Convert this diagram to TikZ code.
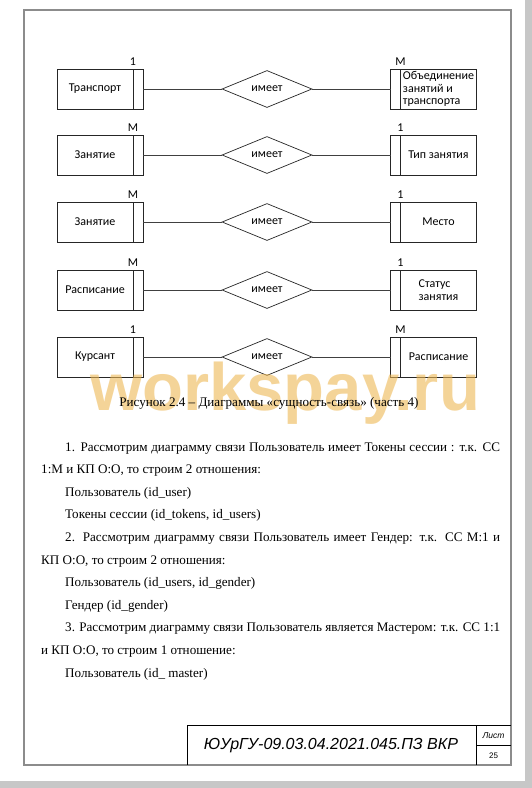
\documentclass[tikz,border=0pt]{standalone}
\usepackage{fontspec}
\setmainfont{Liberation Serif}
\newfontfamily\diagfont{Carlito}
\newfontfamily\stampfont{Liberation Sans}
\usetikzlibrary{positioning,shapes.geometric}

\definecolor{wmark}{RGB}{238,184,84}
\newcommand{\fullline}[1]{\makebox[435pt][s]{#1}}

\tikzset{
  entity/.style={draw=black!85, line width=0.7pt, outer sep=0pt, minimum width=76pt, minimum height=40pt,
    inner sep=1pt, align=left, font=\diagfont\fontsize{12}{12.6}\selectfont},
  keystrip/.style={draw=black!85, line width=0.7pt, outer sep=0pt, minimum width=10pt, minimum height=40pt, inner sep=0pt},
  relation/.style={diamond, draw=black!85, line width=0.7pt, minimum width=90pt, minimum height=31pt,
    inner sep=0pt, font=\diagfont\fontsize{12}{13}\selectfont},
  card/.style={inner sep=0pt, font=\diagfont\fontsize{12}{13}\selectfont},
  link/.style={draw=black!75, line width=0.7pt},
  bodyline/.style={anchor=base west, inner sep=0pt, font=\fontsize{13.1}{15}\selectfont},
  frameline/.style={draw=black!45, line width=1.5pt},
  stampline/.style={draw=black, line width=1pt},
}

\begin{document}
\begin{tikzpicture}[x=1pt,y=-1pt]
    \useasboundingbox (0,0) rectangle (532,788);
    % Page edge and sheet frame
    \fill[white] (0,0) rectangle (532,788);
    \fill[black!22] (525,0) rectangle (532,788);
    \fill[black!22] (0,781) rectangle (532,788);
    \draw[frameline] (24,10) rectangle (511,765);

    % Entity-relationship rows
    \foreach \i/\y/\lt/\rt/\lc/\rc in {
        1/89/Транспорт/{Объединение\\занятий и\\транспорта}/1/M,
        2/155/Занятие/Тип занятия/M/1,
        3/222/Занятие/Место/M/1,
        4/290/Расписание/{Статус\\занятия}/M/1,
        5/357/Курсант/Расписание/1/M}
    {
        \node[entity] (L\i) at (95,\y) {\lt};
        \node[keystrip, right=0pt of L\i] (LS\i) {};
        \node[relation] (D\i) at (267,\y) {имеет};
        \node[entity] (R\i) at (438.5,\y) {\rt};
        \node[keystrip, left=0pt of R\i] (RS\i) {};
        \draw[link] (LS\i) -- (D\i) -- (RS\i);
        \node[card, above=3pt of LS\i.north west] (LC\i) {\lc};
        \node[card, above=3pt of RS\i.north east] (RC\i) {\rc};
    }

    % Watermark
    \node[anchor=base west, inner sep=0pt, text=wmark, opacity=0.6,
          font=\stampfont\bfseries\fontsize{67}{67}\selectfont] (wm) at (90,410) {workspay.ru};

    % Caption and text
    \node[bodyline, anchor=base] (caption) at (269,406) {Рисунок 2.4 – Диаграммы «сущность-связь» (часть 4)};
    \foreach \i/\x/\txt in {
        1/65/{\fullline{1. Рассмотрим диаграмму связи Пользователь имеет Токены сессии : т.к. СС}},
        2/41/{1:M и КП О:О, то строим 2 отношения:},
        3/65/{Пользователь (id\_user)},
        4/65/{Токены сессии (id\_tokens, id\_users)},
        5/65/{\fullline{2. Рассмотрим диаграмму связи Пользователь имеет Гендер: т.к. СС М:1 и}},
        6/41/{КП О:О, то строим 2 отношения:},
        7/65/{Пользователь (id\_users, id\_gender)},
        8/65/{Гендер (id\_gender)},
        9/65/{\fullline{3. Рассмотрим диаграмму связи Пользователь является Мастером: т.к. СС 1:1}},
        10/41/{и КП О:О, то строим 1 отношение:},
        11/65/{Пользователь (id\_ master)}}
        \node[bodyline] (line\i) at (\x,{451+22.6*(\i-1)}) {\txt};

    % Title block
    \draw[stampline] (187,765) -- (187,725) -- (511,725);
    \draw[stampline] (476,725) -- (476,765);
    \draw[stampline] (476,745) -- (511,745);
    \node[inner sep=0pt, font=\stampfont\itshape\fontsize{16}{18}\selectfont] (code) at (331,746) {ЮУрГУ-09.03.04.2021.045.ПЗ ВКР};
    \node[inner sep=0pt, font=\stampfont\itshape\fontsize{8.5}{9}\selectfont] (sheet) at (493.5,735.5) {Лист};
    \node[inner sep=0pt, font=\stampfont\fontsize{8}{9}\selectfont] (sheetno) at (493.5,756) {25};
\end{tikzpicture}
\end{document}
